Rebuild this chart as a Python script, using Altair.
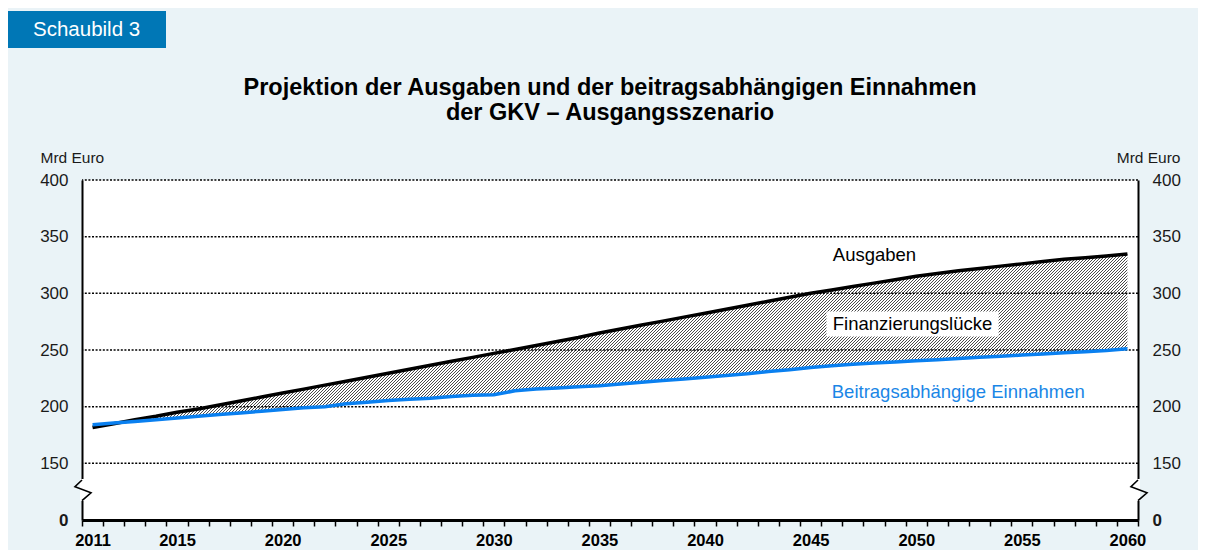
import altair as alt
import pandas as pd

# ---------------- data ----------------
years = list(range(2011, 2061))
ausgaben = [181.5, 185, 188.5, 191.5, 195, 198, 201.5, 205, 208.5, 212,
            215.5, 219, 222.5, 226, 229.5, 233, 236.5, 240, 243.5, 247,
            250.5, 254, 257.5, 261, 265, 268.5, 272, 275.5, 279, 282.5,
            286, 289.5, 293, 296.5, 300, 303, 306, 309, 312, 315,
            317.5, 320, 322, 324, 326, 328, 330, 331.5, 333, 334.8]
einnahmen = [184, 185.5, 187, 188.5, 190, 191.5, 193, 194.5, 196, 197.5,
             199, 200, 202.5, 204, 205.5, 206.5, 207.5, 209, 210, 210.5,
             214, 215.5, 216.5, 217.5, 218.5, 220, 221.5, 223, 224.5, 226,
             227.5, 229, 231, 232.5, 234.5, 236, 237.5, 238.5, 239.5, 240.5,
             241.5, 242.5, 243.5, 244.5, 245.5, 246.5, 247.5, 248.5, 249.5, 251]

x_label_years = [2011, 2015, 2020, 2025, 2030, 2035, 2040, 2045, 2050, 2055, 2060]
y_values = [100, 150, 200, 250, 300, 350, 400]
y_labels = ["0", "150", "200", "250", "300", "350", "400"]
grid_values = [150, 200, 250, 300, 350, 400]

ann_text = ["Ausgaben", "Finanzierungslücke", "Beitragsabhängige Einnahmen"]
ann_year = [2046.05, 2046.05, 2046.0]
ann_value = [334, 273, 213]
ann_color = ["#000000", "#000000", "#1a86e6"]
box_year = [2045.75]
box_year2 = [2053.9]
box_value = [262]
box_value2 = [284]

title_lines = ["Projektion der Ausgaben und der beitragsabhängigen Einnahmen",
               "der GKV – Ausgangsszenario"]
banner_text = ["Schaubild 3"]
unit_label = "Mrd Euro"

# ---------------- layout ----------------
PLOT_W, PLOT_H = 1056, 340
FONT = "Liberation Sans"
x_min, x_max = 2010.5, 2060.5
y_min, y_max = 100, 400
band = PLOT_W / (x_max - x_min)

df = pd.DataFrame({"Jahr": years, "Ausgaben": ausgaben, "Einnahmen": einnahmen})
ann = pd.DataFrame({"text": ann_text, "x": ann_year, "y": ann_value, "c": ann_color})
box = pd.DataFrame({"x": box_year, "x2": box_year2, "y": box_value, "y2": box_value2})
grid = pd.DataFrame({"v": grid_values})
one = pd.DataFrame({"t": banner_text})
ttl = pd.DataFrame({"t": [title_lines]})

xscale = alt.Scale(domain=[x_min, x_max], nice=False, zero=False)
yscale = alt.Scale(domain=[y_min, y_max], nice=False, zero=False)

# hatch pattern via striped linear gradient (bounding-box units)
W = (years[-1] - years[0]) * band
H = (max(ausgaben) - min(min(ausgaben), min(einnahmen))) / (y_max - y_min) * PLOT_H
r = H / W
span = 1.2 * W * (1 + r * r)
period, dark_px = 3.0, 1.2
dark, light = "#4a4a4a", "#ffffff"
stops = []
i = 0
while i * period < span:
    o1 = i * period / span
    o2 = min((i * period + dark_px) / span, 1.0)
    o3 = min((i + 1) * period / span, 1.0)
    stops += [{"offset": o1, "color": dark}, {"offset": o2, "color": dark},
              {"offset": o2, "color": light}, {"offset": o3, "color": light}]
    i += 1
hatch = {"gradient": "linear", "x1": 0, "y1": 0, "x2": 1.2, "y2": 1.2 * r, "stops": stops}

tick_vals = [y - 0.5 for y in years] + [years[-1] + 0.5]
label_list = ",".join(str(v) for v in x_label_years)
x_axis = alt.Axis(
    values=tick_vals,
    labelExpr=f"indexof([{label_list}], datum.value + 0.5) >= 0 ? toString(datum.value + 0.5) : ''",
    labelOffset=band / 2, labelFlush=False, labelOverlap=False, labelBound=False,
    labelFont=FONT, labelFontSize=16.5, labelFontWeight="bold", labelColor="#000",
    labelPadding=6,
    tickSize=6, tickWidth=1.5, tickColor="#000",
    domainColor="#000", domainWidth=3, grid=False, title=None,
)

ylabel_expr = " : ".join(
    f"datum.value == {v} ? '{l}'" for v, l in zip(y_values, y_labels)) + " : ''"


def y_axis(orient, tx, talign):
    return alt.Axis(
        orient=orient, values=y_values, labelExpr=ylabel_expr,
        labelFont=FONT, labelFontSize=17, labelColor="#1a1a1a",
        labelFontWeight={"condition": {"test": "datum.value == 100", "value": "bold"}, "value": "normal"},
        labelPadding=14, ticks=False, grid=False, labelOverlap=False,
        domainColor="#000", domainWidth=2,
        title=unit_label, titleAngle=0, titleX=tx, titleY=-23, titleAlign=talign,
        titleBaseline="middle", titleFont=FONT, titleFontSize=15.5,
        titleFontWeight="normal", titleColor="#1a1a1a",
    )


yaxis_left = y_axis("left", -42, "left")
yaxis_right = y_axis("right", 42, "right")


def XE(field):
    return alt.X(field, scale=xscale, axis=x_axis)


def YE(field):
    return alt.Y(field, scale=yscale, axis=yaxis_left)


base = alt.Chart(df)

area = base.mark_area(fill=hatch, strokeWidth=0).encode(
    x=XE("Jahr:Q"), y=YE("Ausgaben:Q"), y2="Einnahmen:Q")

grid_rules = alt.Chart(grid).mark_rule(color="#000", strokeWidth=1.5, strokeDash=[2, 1.6]).encode(
    y=YE("v:Q"))

line_a = base.mark_line(color="#000", strokeWidth=3.5).encode(
    x=XE("Jahr:Q"), y=YE("Ausgaben:Q"))
line_e = base.mark_line(color="#0a80f0", strokeWidth=3.5).encode(
    x=XE("Jahr:Q"), y=YE("Einnahmen:Q"))

box_mark = alt.Chart(box).mark_rect(color="white").encode(
    x=XE("x:Q"), x2="x2:Q", y=YE("y:Q"), y2="y2:Q")

ann_mark = alt.Chart(ann).mark_text(align="left", baseline="middle", font=FONT, fontSize=18.5).encode(
    x=XE("x:Q"), y=YE("y:Q"), text="text:N", color=alt.Color("c:N", scale=None))

zig_shape = "M0,-0.91 L-0.64,-0.3 L0.82,0.25 L0,0.97"
gap_l = alt.Chart(one).mark_rule(color="white", strokeWidth=4).encode(
    x=alt.value(0), y=alt.value(299), y2=alt.value(321))
gap_r = alt.Chart(one).mark_rule(color="white", strokeWidth=4).encode(
    x=alt.value(PLOT_W), y=alt.value(299), y2=alt.value(321))
zig_l = alt.Chart(one).mark_point(shape=zig_shape, size=484, filled=False, stroke="#000",
                                  strokeWidth=1.6, opacity=1).encode(
    x=alt.value(0), y=alt.value(310))
zig_r = alt.Chart(one).mark_point(shape=zig_shape, size=484, filled=False, stroke="#000",
                                  strokeWidth=1.6, opacity=1).encode(
    x=alt.value(PLOT_W), y=alt.value(310))

banner_rect = alt.Chart(one).mark_rect(color="#0077b6").encode(
    x=alt.value(-75), x2=alt.value(84), y=alt.value(-169), y2=alt.value(-132))
banner_txt = alt.Chart(one).mark_text(align="left", baseline="middle", font=FONT,
                                      fontSize=20.5, color="white").encode(
    x=alt.value(-49), y=alt.value(-150), text="t:N")

title_txt = alt.Chart(ttl).mark_text(align="center", baseline="alphabetic", font=FONT,
                                     fontSize=23.5, fontWeight="bold", color="#000",
                                     lineHeight=25).encode(
    x=alt.value(PLOT_W / 2), y=alt.value(-85), text="t")

left = alt.layer(area, grid_rules, line_a, line_e, box_mark, ann_mark,
                 gap_l, gap_r, zig_l, zig_r, banner_rect, banner_txt, title_txt)

right = base.mark_line(opacity=0).encode(
    x=XE("Jahr:Q"),
    y=alt.Y("Ausgaben:Q", scale=yscale, axis=yaxis_right))

chart = alt.layer(left, right).resolve_scale(y="independent").properties(
    width=PLOT_W, height=PLOT_H,
    autosize=alt.AutoSizeParams(type="none"),
    padding={"left": 74, "top": 172, "right": 60, "bottom": 30},
    background="#eaf3f7",
).configure_view(fill="white", strokeWidth=0)

chart.save("out.html", embed_options={"renderer": "svg", "actions": False})
